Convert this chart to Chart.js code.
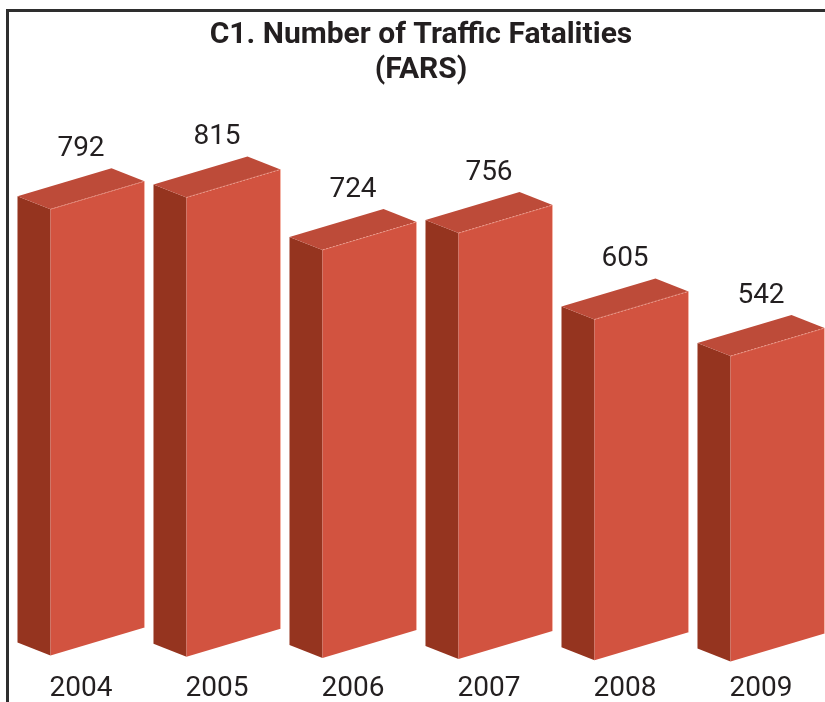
<!DOCTYPE html>
<html>
<head>
<meta charset="utf-8">
<script src="https://cdn.jsdelivr.net/npm/chart.js@4.4.0/dist/chart.umd.min.js"></script>
<style>
  body { margin: 0; background: #fff; overflow: hidden; }
  #wrap { position: relative; width: 825px; height: 702px; overflow: hidden; }
  #frame { position: absolute; left: 6px; top: 9px; width: 830px; height: 700px;
           border-left: 3px solid #2e2e2e; border-top: 3px solid #2e2e2e; }
  canvas { position: absolute; left: 0; top: 0; }
</style>
</head>
<body>
<div id="wrap">
  <div id="frame"></div>
  <canvas id="chart" width="825" height="702"></canvas>
</div>
<script>
// data
var years = ["2004", "2005", "2006", "2007", "2008", "2009"];
var fatalities = [792, 815, 724, 756, 605, 542];
var titleLines = ["C1. Number of Traffic Fatalities", "(FARS)"];

var textColor = "#231f20";
var frontColor = "#d25340";
var topColor = "#bd4b39";
var sideColor = "#95341f";

function poly(ctx, pts, fill) {
    ctx.beginPath();
    ctx.moveTo(pts[0][0], pts[0][1]);
    for (var k = 1; k < pts.length; k++) ctx.lineTo(pts[k][0], pts[k][1]);
    ctx.closePath();
    ctx.fillStyle = fill;
    ctx.fill();
}

// draws each bar as a skewed 3d box, plus the value above it
var boxes3d = {
    id: "boxes3d",
    afterDatasetsDraw: function(chart) {
        var ctx = chart.ctx;
        var meta = chart.getDatasetMeta(0);
        var depthX = 33, depthY = 13, slope = 0.298;
        ctx.save();
        meta.data.forEach(function(bar, i) {
            var drop = i * 1.2;   // slight perspective on the floor line
            var xl = bar.x - bar.width / 2;
            var xr = bar.x + bar.width / 2;
            var xf = xl + depthX;
            var top = bar.y + drop;
            var bot = bar.base + drop;
            var rise = (xr - xf) * slope;

            poly(ctx, [[xl, top - depthY], [xf, top], [xf, bot], [xl, bot - depthY]], sideColor);
            poly(ctx, [[xl, top - depthY], [xf, top], [xr, top - rise], [xr - depthX, top - rise - depthY]], topColor);
            poly(ctx, [[xf, top], [xr, top - rise], [xr, bot - rise], [xf, bot]], frontColor);

            // light edges
            ctx.strokeStyle = "rgba(255,190,175,0.7)";
            ctx.lineWidth = 0.8;
            ctx.setLineDash([2, 1.5]);
            ctx.beginPath();
            ctx.moveTo(xf, top);
            ctx.lineTo(xr, top - rise);
            ctx.stroke();
            ctx.setLineDash([]);
            ctx.beginPath();
            ctx.moveTo(xr, top - rise);
            ctx.lineTo(xr, bot - rise);
            ctx.stroke();

            ctx.fillStyle = textColor;
            ctx.font = "28px Roboto";
            ctx.textAlign = "center";
            ctx.textBaseline = "alphabetic";
            ctx.fillText(String(fatalities[i]), bar.x, top - 53);
        });
        ctx.restore();
    }
};

var ctx = document.getElementById("chart");

var data = {
    labels: years,
    datasets: [{
        label: "Fatalities",
        data: fatalities,
        backgroundColor: "rgba(0,0,0,0)",
        borderWidth: 0,
        categoryPercentage: 1,
        barPercentage: 0.934
    }]
};

var options = {
    responsive: false,
    animation: false,
    layout: { padding: { left: 81, right: 64, top: 0, bottom: -20.5 } },
    plugins: {
        legend: { display: false },
        tooltip: { enabled: false },
        title: {
            display: true,
            text: titleLines,
            color: textColor,
            font: { family: "Roboto", size: 30, weight: "bold", lineHeight: 1.167 },
            padding: { top: 18, bottom: 4 }
        }
    },
    scales: {
        x: {
            offset: false,
            grid: { display: false, drawTicks: false },
            border: { display: false },
            ticks: {
                color: textColor,
                font: { family: "Roboto", size: 28, lineHeight: 1 },
                padding: 19.5,
                maxRotation: 0,
                autoSkip: false
            }
        },
        y: {
            display: false,
            min: 0,
            max: 1000
        }
    }
};

new Chart(ctx, {
    type: "bar",
    data: data,
    options: options,
    plugins: [boxes3d]
});
</script>
</body>
</html>
